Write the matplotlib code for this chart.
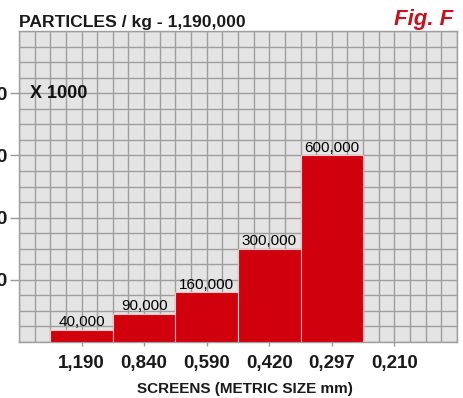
import matplotlib
matplotlib.use("Agg")
import matplotlib.pyplot as plt
import numpy as np

# ---- data ----
screens = ["1,190", "0,840", "0,590", "0,420", "0,297", "0,210"]
particles_k = [40, 90, 160, 300, 600]          # x 1000 particles / kg
ytick_values = [200, 400, 600, 800]
title_text = "PARTICLES / kg - 1,190,000"
fig_label = "Fig. F"
xlabel_text = "SCREENS (METRIC SIZE mm)"
unit_text = "X 1000"

plt.rcParams['font.family'] = ['Liberation Sans', 'DejaVu Sans']

fig = plt.figure(figsize=(4.64, 3.98), dpi=100)
fig.patch.set_facecolor('white')
ax = fig.add_axes([19/464, 1 - 342/398, 438/464, 311/398])
ax.set_facecolor('#e4e4e4')

x = np.arange(len(particles_k))
bars = ax.bar(x, particles_k, width=1.0, color='#d0000d',
              edgecolor='#f2c4c4', linewidth=0.8, zorder=3)
ax.bar_label(bars, labels=[f"{v*1000:,}" for v in particles_k],
             padding=0.5, fontsize=11, color='#000000')

ax.set_xlim(-1, 6)
ax.set_ylim(0, 1000)
ax.set_xticks(np.arange(len(screens)))
ax.set_xticklabels(screens, fontsize=13.5, fontweight='bold', color='#1a1a1a')
ax.set_xticks(np.arange(-1, 6.01, 0.25), minor=True)
ax.set_yticks(ytick_values)
ax.set_yticklabels([str(v) for v in ytick_values], fontsize=14,
                   fontweight='bold', color='#1a1a1a')
ax.set_yticks(np.arange(0, 1001, 50), minor=True)

ax.grid(which='both', color='#9e9e9e', linewidth=1.0)
ax.set_axisbelow(True)
ax.tick_params(axis='x', which='major', length=3, width=1, color='#999999', pad=6.5)
ax.tick_params(axis='y', which='major', length=6.5, width=1, color='#999999', pad=1.5)
ax.tick_params(which='minor', length=0)
for s in ax.spines.values():
    s.set_color('#9e9e9e')
    s.set_linewidth(1.0)

ax.set_xlabel(xlabel_text, fontsize=11, fontweight='bold', color='#1a1a1a')
ax.xaxis.set_label_coords((245 - 19) / 438, -0.13)
ax.xaxis.label.set_va('top')

ax.text(0.025, 0.8, unit_text, transform=ax.transAxes, fontsize=13,
        fontweight='bold', va='center', ha='left', color='#111111')

fig.text(19/464, 1 - 27/398, title_text, fontsize=12.6, fontweight='bold',
         color='#1a1a1a', va='baseline', ha='left')
fig.text(453/464, 1 - 25/398, fig_label, fontsize=16, fontweight='bold',
         fontstyle='italic', color='#c8101e', va='baseline', ha='right')

fig.savefig('out.png', dpi=100)
